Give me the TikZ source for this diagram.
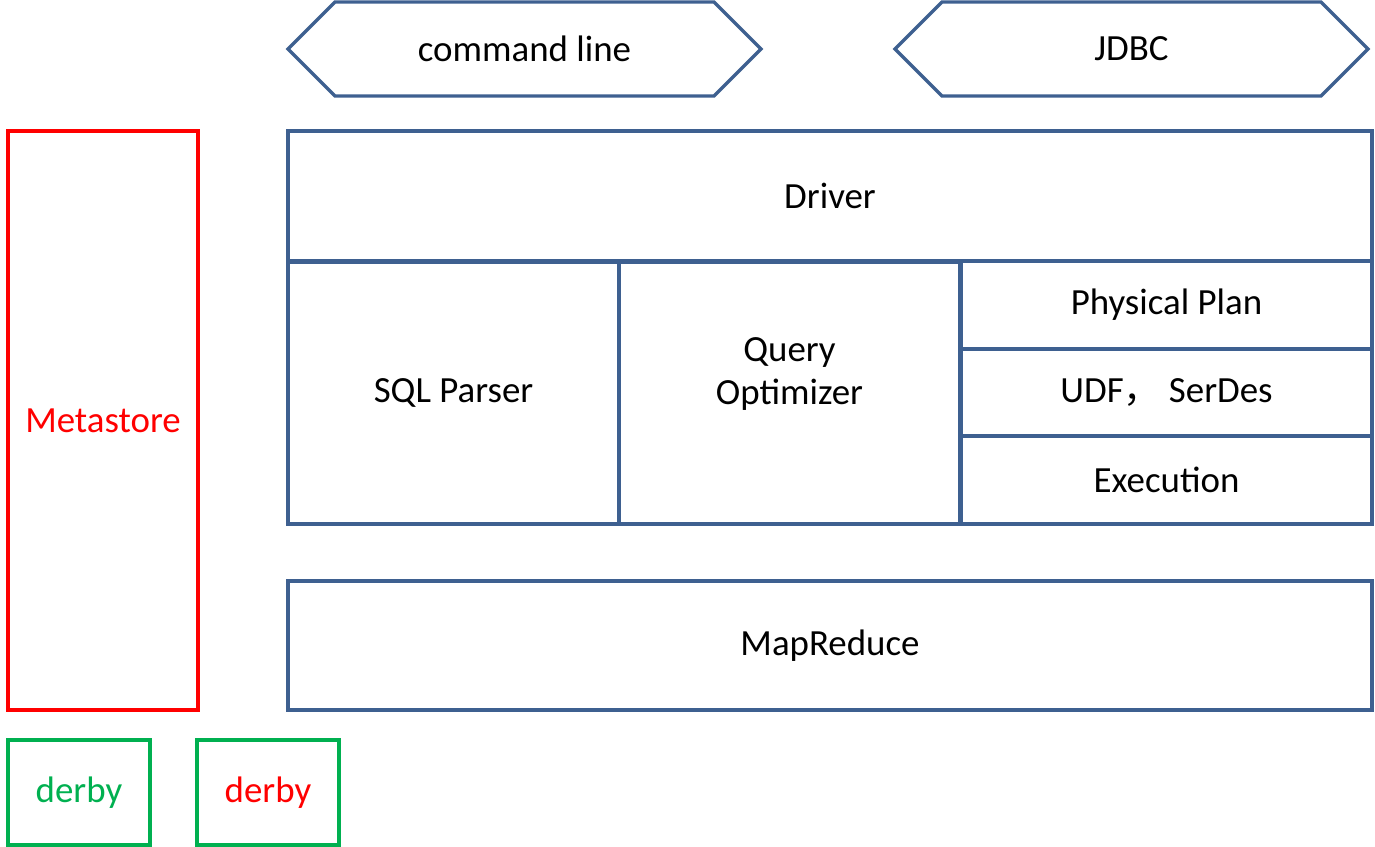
\documentclass[tikz,border=0pt]{standalone}
\usepackage{fontspec}
\setmainfont{Carlito}
\newfontfamily\cjk{Noto Sans CJK SC}
\usetikzlibrary{shapes.symbols}
\definecolor{hiveblue}{HTML}{3E6090}
\definecolor{hivegreen}{HTML}{00B050}

\begin{document}
\begin{tikzpicture}[
  x=0.02cm, y=-0.02cm,
  every node/.style={font=\fontsize{21}{25}\selectfont, line width=0.065cm, align=center},
  box/.style={draw=hiveblue, minimum width=#1*0.02cm, inner sep=0pt},
  iface/.style={draw=hiveblue, signal, signal to=west and east, minimum width=473*0.02cm, minimum height=94*0.02cm, inner sep=0pt},
  meta/.style={draw=red, text=red, minimum width=190*0.02cm, minimum height=579*0.02cm},
  dbbox/.style={draw=hivegreen, minimum width=142*0.02cm, minimum height=105*0.02cm}
]
\useasboundingbox (0,0) rectangle (1375,847);

% Nodes
\node[iface] (cli) at (524.5,49) {command line};
\node[iface] (jdbc) at (1131.5,49) {JDBC};

\node[meta] (metastore) at (103,420.5) {Metastore};

\node[box=1084, minimum height=130*0.02cm] (driver) at (830,196) {Driver};
\node[box=331, minimum height=262*0.02cm] (parser) at (453.5,393) {SQL Parser};
\node[box=341, minimum height=262*0.02cm] (optimizer) at (789.5,393) {Query\\Optimizer\\ \mbox{}};
\node[box=411, minimum height=88*0.02cm] (plan) at (1166.5,305) {Physical Plan};
\node[box=411, minimum height=87*0.02cm] (udf) at (1166.5,392.5) {UDF{\cjk ，} SerDes};
\node[box=411, minimum height=88*0.02cm] (exec) at (1166.5,480) {Execution};
\node[box=1084, minimum height=129*0.02cm] (mapreduce) at (830,645.5) {MapReduce};

\node[dbbox, text=hivegreen] (derbya) at (79,792.5) {derby};
\node[dbbox, text=red] (derbyb) at (268,792.5) {derby};

\end{tikzpicture}
\end{document}
